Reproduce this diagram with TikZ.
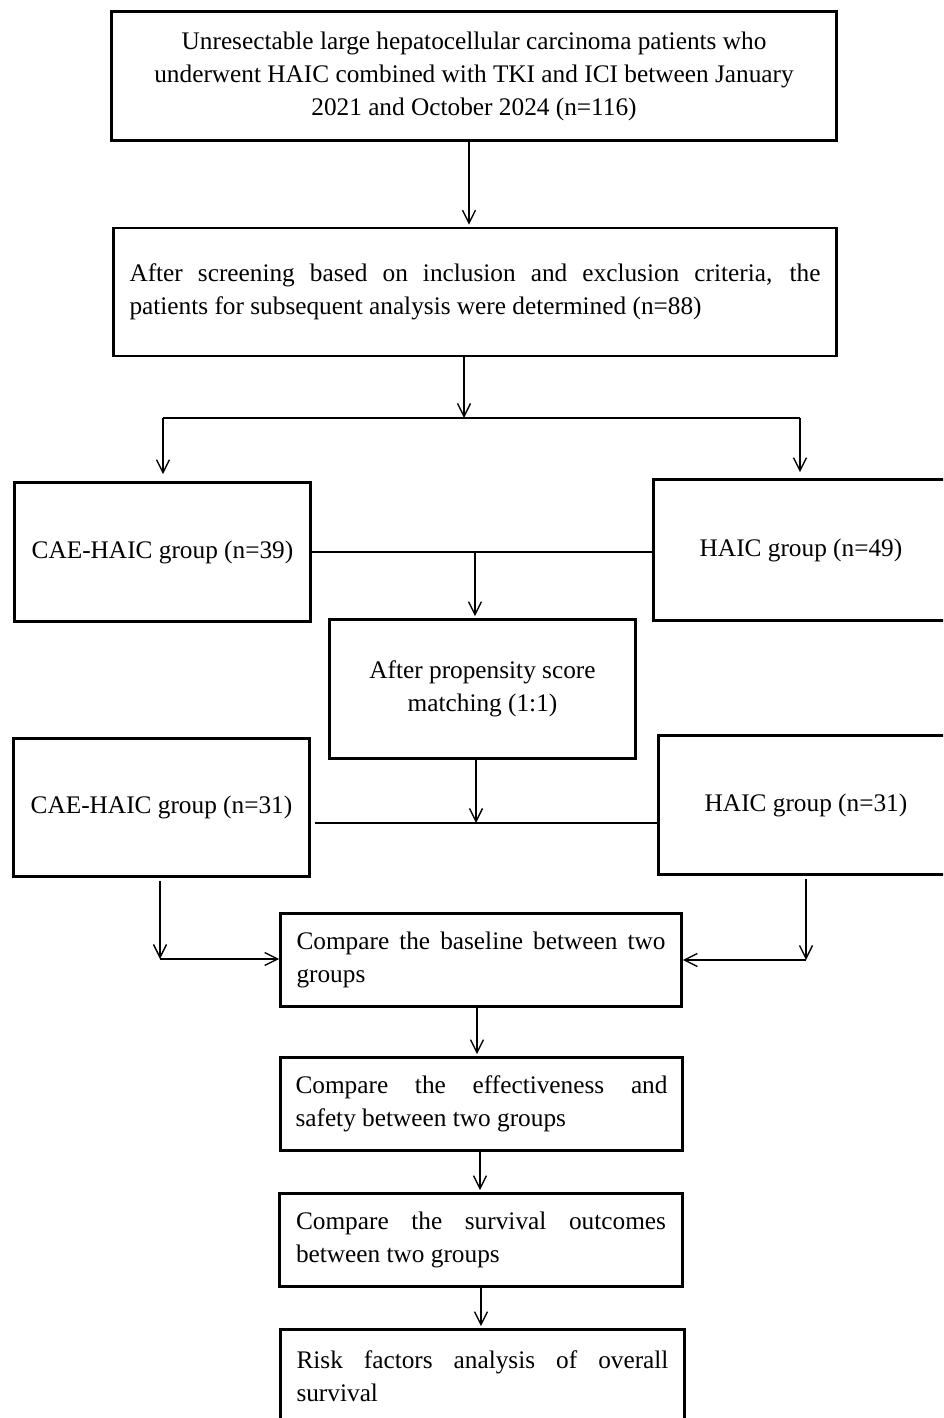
\documentclass[tikz,border=0pt]{standalone}
\usepackage{fontspec}
\setmainfont{Liberation Serif}
\usetikzlibrary{arrows.meta,calc}
\hyphenpenalty=10000
\exhyphenpenalty=10000
\hbadness=10000
\begin{document}
\begin{tikzpicture}[x=1pt,y=-1pt,
  box/.style={draw, line width=2.6pt, inner sep=0pt, font=\fontsize{25.3}{33}\selectfont},
  arr/.style={line width=1.4pt, -{Straight Barb[length=13pt,width=13pt,line width=1.4pt]}},
  ln/.style={line width=1.4pt}]
\clip (0,0) rectangle (943,1418);
\fill[white] (0,0) rectangle (943,1418);
% boxes
\node[box, minimum width=725pt, minimum height=129pt, align=center] (b1) at (474,76)
  {Unresectable large hepatocellular carcinoma patients who\\underwent HAIC combined with TKI and ICI between January\\2021 and October 2024 (n=116)};
\node[box, minimum width=723pt, minimum height=128pt, text width=691pt, align=justify] (b2) at (475,292)
  {After screening based on inclusion and exclusion criteria, the\linebreak patients for subsequent analysis were determined (n=88)};
\node[box, minimum width=296pt, minimum height=139pt, align=center] (b3) at (162.5,552) {CAE-HAIC group (n=39)};
\node[box, minimum width=295pt, minimum height=141pt, align=center] (b4) at (801,550) {HAIC group (n=49)};
\node[box, minimum width=306pt, minimum height=139pt, align=center] (b5) at (482.5,689) {After propensity score\\matching (1:1)};
\node[box, minimum width=296pt, minimum height=138pt, align=center] (b6) at (161.5,807.5) {CAE-HAIC group (n=31)};
\node[box, minimum width=295pt, minimum height=139pt, align=center] (b7) at (806,805) {HAIC group (n=31)};
\node[box, minimum width=401pt, minimum height=93pt, text width=369pt, align=justify] (b8) at (481,960)
  {Compare the baseline between two\linebreak groups};
\node[box, minimum width=402pt, minimum height=93pt, text width=372pt, align=justify] (b9) at (481.5,1104)
  {Compare the effectiveness and\linebreak safety between two groups};
\node[box, minimum width=403pt, minimum height=93pt, text width=370pt, align=justify] (b10) at (481,1240)
  {Compare the survival outcomes\linebreak between two groups};
\node[box, minimum width=404pt, minimum height=93pt, text width=372pt, align=justify] (b11) at (482.5,1376)
  {Risk factors analysis of overall\linebreak survival};
% junction coordinates
\coordinate (sp) at (464,418);
\coordinate (spL) at (163,418);
\coordinate (spR) at (800,418);
\coordinate (m1) at (475,552);
\coordinate (m2) at (476,823);
\coordinate (cL) at (160,959);
\coordinate (cR) at (806,960);
% connectors
\draw[arr, shorten >=2pt] ([xshift=-5pt]b1.south) -- ([xshift=-5pt]b1.south |- b2.north);
\draw[arr] (b2.south -| sp) -- (sp);
\draw[ln] (spL) -- (spR);
\draw[arr, shorten >=7pt] (spL) -- (spL |- b3.north);
\draw[arr, shorten >=6pt] (spR) -- (spR |- b4.north);
\draw[ln] (b3.east |- m1) -- (b4.west |- m1);
\draw[arr, shorten >=2pt] (m1) -- (m1 |- b5.north);
\draw[arr] (b5.south -| m2) -- (m2);
\draw[ln] ([xshift=4pt]b6.east |- m2) -- (b7.west |- m2);
\draw[arr, shorten <=3pt] (b6.south -| cL) -- (cL);
\draw[arr] (cL) -- (b8.west |- cL);
\draw[arr, shorten <=3pt] (b7.south -| cR) -- (cR);
\draw[arr] (cR) -- (b8.east |- cR);
\draw[arr, shorten >=2pt] ([xshift=-4pt]b8.south) -- ([xshift=-4pt]b8.south |- b9.north);
\draw[arr, shorten >=2pt] ([xshift=-1.5pt]b9.south) -- ([xshift=-1.5pt]b9.south |- b10.north);
\draw[arr, shorten >=2pt] (b10.south) -- (b10.south |- b11.north);
\end{tikzpicture}
\end{document}
